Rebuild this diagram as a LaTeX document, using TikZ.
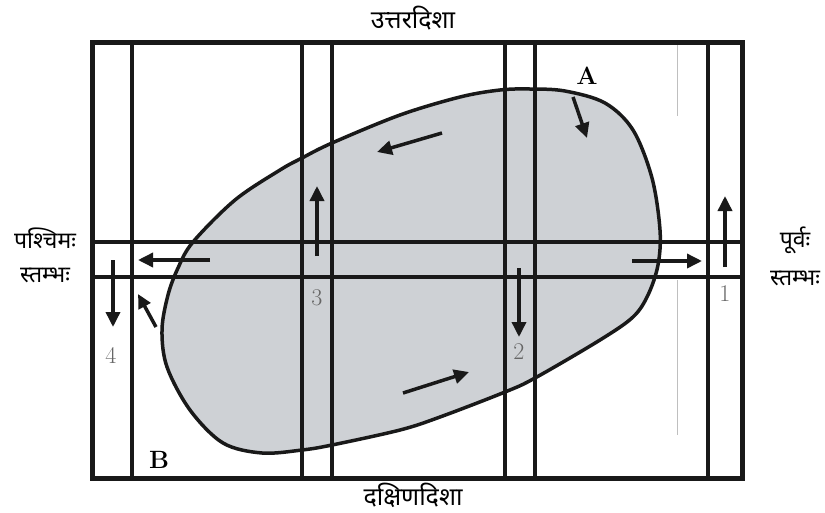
\documentclass[tikz,border=0pt]{standalone}
\usepackage{fontspec}
\newfontfamily\deva[Script=Devanagari]{Noto Sans}
\usetikzlibrary{arrows.meta}
\definecolor{blobgray}{HTML}{CED1D5}
\tikzset{
  strip/.style={line width=3.5pt, black!90},
  frame/.style={line width=5pt, black!90},
  flow/.style={line width=3.5pt, black!90, -{Triangle[length=15pt,width=14pt]}},
  devtext/.style={font=\deva\fontsize{25}{28}\selectfont, inner sep=0pt},
  sidetext/.style={font=\deva\fontsize{23}{26}\selectfont, inner sep=0pt},
  num/.style={font=\fontsize{24}{26}\selectfont, text=black!60, inner sep=0pt},
  letter/.style={font=\bfseries\fontsize{25}{27}\selectfont, inner sep=0pt}
}
\begin{document}
\begin{tikzpicture}[x=1pt,y=-1pt]
\useasboundingbox (0,0) rectangle (825,512);
% blob
\draw[line width=3.5pt, black!90, fill=blobgray] plot[smooth cycle, tension=0.55] coordinates {
 (530,89) (565,91) (605,103) (633,130) (652,178) (660,230) (658,265) (648,295)
 (633,317) (600,340) (535,378) (505,392) (440,417) (400,430) (332,445) (302,450)
 (262,453) (223,443) (190,410) (167,367) (162,330) (168,295) (178,268) (193,242)
 (235,200) (280,170) (302,158) (332,143) (400,115) (460,97) (500,90)};
% faint scan line
\draw[line width=1pt, black!25] (677,44) -- (677,116);
\draw[line width=1pt, black!25] (677,280) -- (677,435);
% vertical strips
\foreach \x in {132,302,332,505,535,708} \draw[strip] (\x,42) -- (\x,478);
% horizontal strip
\draw[strip] (92,242) -- (742,242);
\draw[strip] (92,277) -- (742,277);
% frame
\draw[frame] (92,42) rectangle (742,478);
% arrows
\draw[flow] (573,97) -- (587,138);
\draw[flow] (442,133) -- (377,152);
\draw[flow] (317,256) -- (317,186);
\draw[flow] (210,260) -- (138,260);
\draw[flow] (113,260) -- (113,327);
\draw[flow, -{Triangle[length=14pt,width=13pt]}] (156,327) -- (138,294);
\draw[flow] (632,261) -- (702,261);
\draw[flow] (725,267) -- (725,196);
\draw[flow] (519,268) -- (519,337);
\draw[flow] (403,393) -- (469,372);
% numbers
\node[num] (n1) at (725,294) {1};
\node[num] (n2) at (519,352) {2};
\node[num] (n3) at (317,298) {3};
\node[num] (n4) at (111,355) {4};
% letters
\node[letter] (A) at (587,76) {A};
\node[letter] (B) at (159,460) {B};
% direction texts
\node[devtext] (north) at (413,18) {उत्तरदिशा};
\node[devtext] (south) at (413,495) {दक्षिणदिशा};
\node[sidetext] (west1) at (45,238) {पश्चिमः};
\node[sidetext] (west2) at (45,275) {स्तम्भः};
\node[sidetext] (east1) at (795,240) {पूर्वः};
\node[sidetext] (east2) at (795,278) {स्तम्भः};
\end{tikzpicture}
\end{document}
